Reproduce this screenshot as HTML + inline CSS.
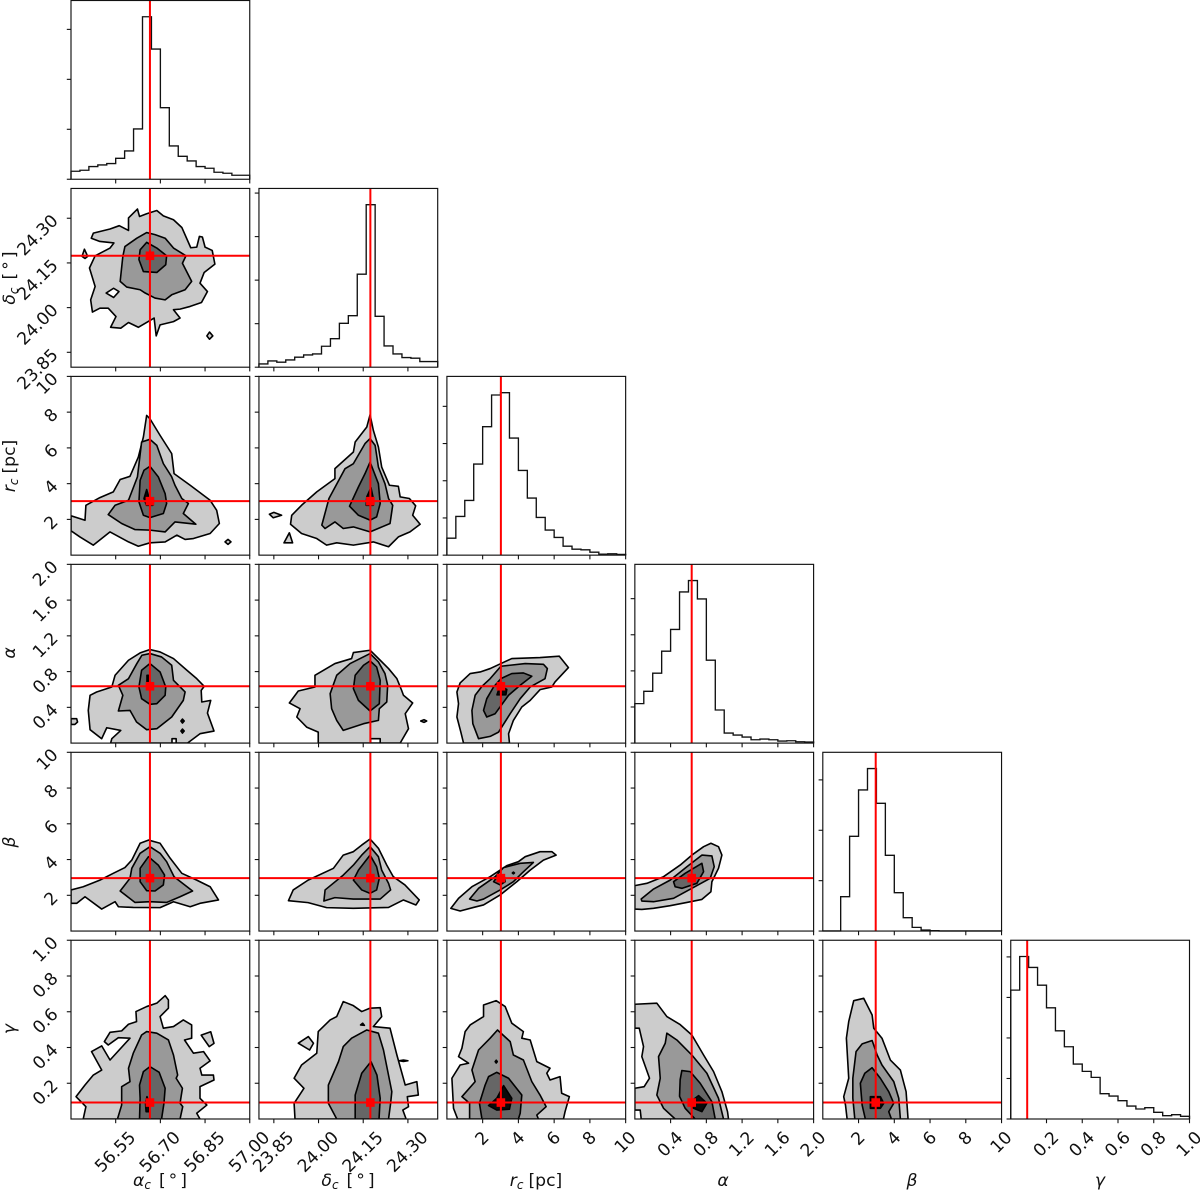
<!DOCTYPE html>
<html lang="en">
<head>
<meta charset="utf-8">
<title>Corner plot</title>
<style>
html,body{margin:0;padding:0;background:#fff;width:1200px;height:1190px;overflow:hidden}
svg{display:block;font-family:"DejaVu Sans","Liberation Sans",sans-serif;fill:#000;filter:blur(0.35px)}
.lab{font-size:17.2px;fill:#111}
</style>
</head>
<body>
<svg id="chart" xmlns="http://www.w3.org/2000/svg" width="1200" height="1190" viewBox="0 0 1200 1190">
<rect width="1200" height="1190" fill="#fff"/>
<g id="panels"></g>
<g>
<text class="lab" x="160" y="1186" text-anchor="middle"><tspan font-style="italic">α</tspan><tspan font-style="italic" font-size="12" dy="3">c</tspan><tspan dy="-3" dx="8">[</tspan><tspan dx="3">°</tspan><tspan dx="3">]</tspan></text>
<text class="lab" x="348" y="1186" text-anchor="middle"><tspan font-style="italic">δ</tspan><tspan font-style="italic" font-size="12" dy="3">c</tspan><tspan dy="-3" dx="8">[</tspan><tspan dx="3">°</tspan><tspan dx="3">]</tspan></text>
<text class="lab" x="536" y="1186" text-anchor="middle"><tspan font-style="italic">r</tspan><tspan font-style="italic" font-size="12" dy="3">c</tspan><tspan dy="-3" dx="5">[pc]</tspan></text>
<text class="lab" x="723" y="1186" text-anchor="middle" font-style="italic">α</text>
<text class="lab" x="912" y="1186" text-anchor="middle" font-style="italic">β</text>
<text class="lab" x="1100" y="1186" text-anchor="middle" font-style="italic">γ</text>
</g>
<g>
<text class="lab" transform="translate(15 278) rotate(-90)" text-anchor="middle"><tspan font-style="italic">δ</tspan><tspan font-style="italic" font-size="12" dy="3">c</tspan><tspan dy="-3" dx="8">[</tspan><tspan dx="3">°</tspan><tspan dx="3">]</tspan></text>
<text class="lab" transform="translate(15 466) rotate(-90)" text-anchor="middle"><tspan font-style="italic">r</tspan><tspan font-style="italic" font-size="12" dy="3">c</tspan><tspan dy="-3" dx="5">[pc]</tspan></text>
<text class="lab" transform="translate(15 653) rotate(-90)" text-anchor="middle" font-style="italic">α</text>
<text class="lab" transform="translate(15 842) rotate(-90)" text-anchor="middle" font-style="italic">β</text>
<text class="lab" transform="translate(15 1029) rotate(-90)" text-anchor="middle" font-style="italic">γ</text>
</g>
</svg>
<script>
// ---------- parameters and axis data ----------
const paramNames = ['alpha-c','delta-c','r-c','alpha','beta','gamma'];
const axisMin = [56.4, 23.8, 0, 0, 0, 0];
const axisMax = [57.0, 24.4, 10, 2, 10, 1];
const truths = [56.665, 24.174, 3.02, 0.636, 2.96, 0.092];
const ticksAlphaC = ['56.55','56.70','56.85','57.00'];
const ticksDeltaC = ['23.85','24.00','24.15','24.30'];
const ticksRc = ['2','4','6','8','10'];
const ticksAlpha = ['0.4','0.8','1.2','1.6','2.0'];
const ticksBeta = ['2','4','6','8','10'];
const ticksGamma = ['0.2','0.4','0.6','0.8','1.0'];
const tickSets = [ticksAlphaC,ticksDeltaC,ticksRc,ticksAlpha,ticksBeta,ticksGamma];

// ---------- 1-D histograms (20 bins, counts in thousands) ----------
const histAlphaC = [0.16,0.18,0.253,0.287,0.313,0.42,0.567,1.007,3.253,2.607,1.433,0.667,0.46,0.367,0.253,0.22,0.14,0.12,0.08,0.08];
const histDeltaC = [0.076,0.145,0.115,0.168,0.229,0.282,0.305,0.481,0.656,1.008,1.183,2.137,3.733,1.168,0.489,0.305,0.221,0.206,0.13,0.13];
const histRc = [0.457,1.04,1.471,2.448,3.453,4.305,4.368,3.148,2.278,1.534,1.013,0.673,0.475,0.242,0.161,0.143,0.081,0.027,0.036,0.018];
const histAlpha = [1.093,1.435,1.935,2.546,3.148,4.185,4.5,3.991,2.296,0.917,0.278,0.222,0.167,0.093,0.111,0.093,0.056,0.065,0.037,0.028];
const histBeta = [0.003,0.003,0.682,1.881,2.801,3.225,2.536,1.503,0.762,0.265,0.073,0.02,0.007,0.003,0.003,0.003,0.003,0.002,0.002,0.002];
const histGamma = [3.18,4.01,3.739,3.303,2.744,2.177,1.783,1.356,1.175,1.027,0.624,0.567,0.452,0.32,0.247,0.279,0.164,0.082,0.107,0.066];
const hists = [histAlphaC,histDeltaC,histRc,histAlpha,histBeta,histGamma];

// ---------- 2-D contours: [level, vertices in data units]; level -1 is an empty hole ----------
const deltaVsAlphaC = [
[0,[[56.623,24.331],[56.63,24.306],[56.654,24.315],[56.688,24.326],[56.71,24.308],[56.744,24.295],[56.772,24.269],[56.802,24.201],[56.822,24.203],[56.831,24.239],[56.841,24.237],[56.85,24.203],[56.874,24.192],[56.883,24.146],[56.847,24.118],[56.833,24.082],[56.858,24.054],[56.838,24.017],[56.8,24.004],[56.766,23.995],[56.744,23.993],[56.766,23.965],[56.744,23.953],[56.699,23.942],[56.686,23.905],[56.679,23.965],[56.626,23.934],[56.593,23.95],[56.567,23.931],[56.533,23.934],[56.551,23.97],[56.525,23.998],[56.497,23.998],[56.472,23.985],[56.466,24.026],[56.481,24.071],[56.462,24.133],[56.481,24.174],[56.531,24.2],[56.544,24.217],[56.497,24.222],[56.468,24.233],[56.475,24.25],[56.531,24.264],[56.562,24.275],[56.593,24.259],[56.593,24.301]]],
[-1,[[56.518,24.049],[56.543,24.065],[56.561,24.054],[56.543,24.034]]],
[0,[[56.437,24.172],[56.445,24.196],[56.456,24.172],[56.447,24.165]]],
[0,[[56.856,23.905],[56.865,23.918],[56.876,23.905],[56.865,23.894]]],
[1,[[56.654,24.252],[56.682,24.245],[56.716,24.233],[56.744,24.2],[56.786,24.174],[56.774,24.149],[56.805,24.088],[56.783,24.06],[56.738,24.043],[56.716,24.026],[56.682,24.032],[56.649,24.049],[56.632,24.06],[56.587,24.069],[56.565,24.088],[56.574,24.172],[56.581,24.205],[56.621,24.233]]],
[2,[[56.654,24.219],[56.688,24.2],[56.721,24.174],[56.718,24.144],[56.688,24.118],[56.643,24.121],[56.628,24.161],[56.632,24.194]]]
];
const rcVsAlphaC = [
[0,[[56.4,2.2],[56.447,1.95],[56.45,2.79],[56.497,3.22],[56.542,3.54],[56.565,4.23],[56.598,4.41],[56.626,5.49],[56.643,6.61],[56.654,7.82],[56.665,7.63],[56.699,6.7],[56.738,5.68],[56.746,4.56],[56.8,3.91],[56.867,3.07],[56.889,2.51],[56.898,1.77],[56.867,1.21],[56.811,0.93],[56.783,0.88],[56.755,1.12],[56.716,0.74],[56.665,0.69],[56.626,0.5],[56.593,0.74],[56.531,1.3],[56.475,0.56],[56.43,1.02],[56.4,1.36]]],
[0,[[56.917,0.74],[56.927,0.88],[56.937,0.74],[56.927,0.6]]],
[1,[[56.665,6.48],[56.688,6.14],[56.71,5.12],[56.738,4.38],[56.749,3.91],[56.772,3.17],[56.794,2.89],[56.777,2.33],[56.819,1.73],[56.749,1.86],[56.716,1.3],[56.665,1.4],[56.615,1.43],[56.57,1.77],[56.525,2.27],[56.548,2.79],[56.593,3.07],[56.623,4.38],[56.637,6.33]]],
[2,[[56.665,4.97],[56.693,4.38],[56.716,3.44],[56.721,2.89],[56.71,2.33],[56.665,2.1],[56.643,2.23],[56.628,2.98],[56.632,4.19],[56.645,4.75]]],
[3,[[56.654,3.67],[56.661,3.26],[56.677,3.07],[56.675,2.79],[56.653,2.79],[56.645,3.17]]]
];
const rcVsDeltaC = [
[0,[[24.173,7.86],[24.184,6.98],[24.201,6.05],[24.212,4.93],[24.238,3.91],[24.268,3.85],[24.274,3.26],[24.305,3.17],[24.326,2.76],[24.316,2.23],[24.341,1.73],[24.307,1.3],[24.268,1.02],[24.235,0.47],[24.184,0.74],[24.117,0.56],[24.061,0.69],[24.027,0.56],[23.994,0.93],[23.943,1.21],[23.906,1.73],[23.91,2.23],[23.943,2.79],[23.994,3.54],[24.055,4.28],[24.055,4.84],[24.117,5.77],[24.123,6.33],[24.162,7.17]]],
[0,[[23.835,2.29],[23.85,2.39],[23.876,2.23],[23.848,2.09]]],
[0,[[23.884,0.69],[23.902,1.25],[23.913,0.69]]],
[1,[[24.173,6.52],[24.19,6.14],[24.201,4.93],[24.223,4.0],[24.235,3.17],[24.249,2.79],[24.24,1.77],[24.173,1.3],[24.117,1.58],[24.083,1.49],[24.055,1.86],[24.022,1.49],[24.011,1.68],[24.035,3.17],[24.089,4.84],[24.117,5.12],[24.156,6.24]]],
[2,[[24.173,5.21],[24.201,4.0],[24.207,2.89],[24.195,2.14],[24.173,1.96],[24.134,2.23],[24.104,2.74],[24.134,3.82],[24.156,4.56]]],
[3,[[24.176,3.78],[24.184,3.17],[24.184,2.79],[24.16,2.79],[24.162,3.26]]]
];
const alphaVsAlphaC = [
[0,[[56.665,1.047],[56.699,1.02],[56.744,0.946],[56.789,0.815],[56.822,0.721],[56.847,0.635],[56.837,0.59],[56.839,0.46],[56.869,0.478],[56.858,0.336],[56.88,0.135],[56.833,0.105],[56.791,0],[56.533,0],[56.537,0.049],[56.567,0.142],[56.52,0.172],[56.503,0.049],[56.464,0.15],[56.458,0.366],[56.464,0.535],[56.486,0.572],[56.537,0.628],[56.548,0.759],[56.593,0.927],[56.632,1.009]]],
[-1,[[56.739,0],[56.739,0.049],[56.753,0.049],[56.753,0]]],
[0,[[56.4,0.273],[56.419,0.273],[56.422,0.236],[56.413,0.209],[56.4,0.209]]],
[3,[[56.769,0.247],[56.774,0.269],[56.78,0.247],[56.774,0.224]]],
[3,[[56.769,0.135],[56.774,0.157],[56.78,0.135],[56.774,0.112]]],
[1,[[56.665,1.002],[56.704,0.964],[56.738,0.871],[56.744,0.703],[56.783,0.572],[56.777,0.478],[56.738,0.292],[56.688,0.161],[56.654,0.15],[56.62,0.236],[56.598,0.366],[56.559,0.359],[56.574,0.535],[56.559,0.647],[56.593,0.721],[56.621,0.89],[56.638,0.983]]],
[2,[[56.665,0.89],[56.699,0.796],[56.718,0.628],[56.716,0.535],[56.688,0.441],[56.665,0.434],[56.637,0.497],[56.628,0.628],[56.637,0.815]]],
[3,[[56.655,0.759],[56.66,0.759],[56.66,0.665],[56.655,0.665]]]
];
const alphaVsDeltaC = [
[0,[[24.173,1.039],[24.207,0.927],[24.235,0.834],[24.263,0.721],[24.279,0.59],[24.285,0.535],[24.316,0.449],[24.291,0.329],[24.302,0.161],[24.274,0],[23.999,0],[23.999,0.123],[23.96,0.179],[23.927,0.292],[23.938,0.385],[23.902,0.449],[23.932,0.583],[23.988,0.628],[23.988,0.759],[24.055,0.89],[24.111,0.946],[24.117,1.013]]],
[-1,[[24.175,0],[24.175,0.049],[24.207,0.049],[24.207,0]]],
[0,[[24.343,0.247],[24.354,0.262],[24.363,0.247],[24.354,0.232]]],
[1,[[24.173,1.002],[24.201,0.908],[24.223,0.778],[24.232,0.647],[24.229,0.46],[24.204,0.385],[24.201,0.254],[24.151,0.217],[24.083,0.142],[24.061,0.254],[24.044,0.385],[24.039,0.553],[24.061,0.759],[24.106,0.89]]],
[2,[[24.173,0.92],[24.195,0.852],[24.207,0.703],[24.204,0.441],[24.173,0.359],[24.134,0.478],[24.117,0.609],[24.123,0.759],[24.151,0.871]]]
];
const alphaVsRc = [
[0,[[3.02,0.89],[3.63,0.946],[5.21,0.957],[6.29,0.972],[6.8,0.845],[6.05,0.684],[5.87,0.628],[5.21,0.598],[4.66,0.478],[4.19,0.404],[3.72,0.254],[3.45,0.105],[3.5,0],[0.93,0],[0.78,0.123],[0.56,0.292],[0.65,0.441],[0.56,0.572],[0.74,0.673],[1.3,0.778],[1.86,0.796],[2.42,0.834]]],
[1,[[3.02,0.86],[4.38,0.89],[5.4,0.882],[5.62,0.834],[5.49,0.721],[4.66,0.628],[4.1,0.497],[3.54,0.329],[2.89,0.123],[2.42,0.075],[1.77,0.049],[1.45,0.217],[1.4,0.366],[1.58,0.535],[1.96,0.635],[2.42,0.721]]],
[2,[[3.02,0.721],[3.63,0.778],[4.28,0.785],[4.75,0.748],[4.1,0.647],[3.45,0.535],[2.7,0.329],[2.23,0.292],[2.05,0.366],[2.23,0.497],[2.61,0.628]]],
[3,[[3.07,0.63],[3.35,0.6],[3.3,0.54],[2.8,0.54],[2.9,0.6]]]
];
const betaVsAlphaC = [
[0,[[56.4,2.3],[56.441,2.48],[56.497,2.85],[56.542,3.23],[56.581,3.55],[56.604,3.97],[56.632,4.91],[56.66,5.09],[56.699,4.91],[56.733,4.07],[56.772,3.23],[56.822,2.85],[56.867,2.48],[56.895,1.74],[56.833,1.55],[56.8,1.36],[56.744,1.64],[56.699,1.31],[56.609,1.32],[56.559,1.36],[56.548,1.64],[56.503,1.23],[56.447,1.92],[56.419,1.55],[56.4,1.55]]],
[1,[[56.665,4.72],[56.699,4.35],[56.721,3.88],[56.746,3.04],[56.808,2.24],[56.766,1.92],[56.721,1.6],[56.665,1.64],[56.615,1.6],[56.565,2.24],[56.598,2.95],[56.604,3.51],[56.632,4.35]]],
[2,[[56.66,4.16],[56.693,3.69],[56.714,3.13],[56.71,2.58],[56.682,2.24],[56.654,2.26],[56.632,2.76],[56.632,3.51]]]
];
const betaVsDeltaC = [
[0,[[24.173,5.15],[24.201,4.63],[24.229,3.69],[24.251,3.04],[24.29,2.58],[24.338,1.74],[24.327,1.46],[24.285,1.74],[24.235,1.32],[24.117,1.27],[24.027,1.31],[23.965,1.59],[23.899,1.7],[23.915,2.3],[23.965,2.85],[24.05,3.51],[24.083,4.25],[24.117,4.44],[24.145,4.81]]],
[1,[[24.173,4.72],[24.201,4.16],[24.212,3.41],[24.235,2.67],[24.242,2.3],[24.207,1.79],[24.117,1.79],[24.055,1.87],[24.018,1.68],[24.022,2.3],[24.083,3.13],[24.117,3.69],[24.145,4.25]]],
[2,[[24.173,4.25],[24.195,3.6],[24.204,2.95],[24.195,2.3],[24.173,2.11],[24.145,2.3],[24.117,2.85],[24.134,3.41]]]
];
const betaVsRc = [
[0,[[0.22,1.27],[0.65,1.83],[1.4,2.48],[2.42,3.04],[2.98,3.41],[3.35,3.66],[4.0,3.88],[4.38,4.16],[5.21,4.44],[5.87,4.44],[6.11,4.25],[5.4,3.97],[4.66,3.41],[3.91,2.76],[2.98,2.02],[2.05,1.46],[1.49,1.32],[0.74,1.12]]],
[1,[[1.27,1.79],[1.77,2.39],[2.7,3.04],[3.17,3.55],[4.1,3.79],[4.84,3.84],[4.19,3.23],[3.72,2.76],[2.98,2.3],[2.05,1.79],[1.68,1.68]]],
[2,[[2.61,2.76],[2.89,3.13],[3.2,3.1],[3.26,2.76],[2.98,2.58]]],
[3,[[3.66,3.25],[3.72,3.3],[3.78,3.25],[3.72,3.2]]]
];
const betaVsAlpha = [
[0,[[0,2.54],[0.134,2.67],[0.321,3.04],[0.507,3.69],[0.638,4.25],[0.769,4.72],[0.851,4.91],[0.936,4.72],[0.974,4.25],[0.936,3.51],[0.862,2.76],[0.851,2.2],[0.75,1.77],[0.582,1.6],[0.395,1.42],[0.209,1.27],[0.078,1.21],[0,1.23]]],
[1,[[0.071,1.79],[0.209,2.35],[0.395,2.85],[0.582,3.6],[0.75,4.25],[0.862,4.2],[0.888,3.6],[0.843,2.95],[0.638,2.39],[0.433,1.83],[0.209,1.64],[0.078,1.68]]],
[2,[[0.433,2.76],[0.563,3.23],[0.75,3.79],[0.769,3.32],[0.694,2.67],[0.526,2.39],[0.451,2.48]]]
];
const gammaVsAlphaC = [
[0,[[56.417,0.125],[56.447,0.19],[56.475,0.246],[56.503,0.274],[56.469,0.377],[56.503,0.409],[56.531,0.33],[56.598,0.452],[56.559,0.455],[56.525,0.414],[56.512,0.433],[56.531,0.485],[56.57,0.493],[56.593,0.53],[56.62,0.545],[56.618,0.601],[56.654,0.629],[56.688,0.648],[56.716,0.69],[56.727,0.666],[56.727,0.62],[56.699,0.573],[56.71,0.508],[56.744,0.517],[56.777,0.554],[56.805,0.526],[56.805,0.452],[56.781,0.442],[56.811,0.368],[56.845,0.377],[56.867,0.325],[56.833,0.284],[56.839,0.246],[56.878,0.246],[56.88,0.218],[56.833,0.181],[56.833,0.116],[56.856,0.078],[56.822,0.032],[56.833,0],[56.441,0],[56.45,0.069]]],
[0,[[56.837,0.469],[56.869,0.488],[56.88,0.423],[56.864,0.405]]],
[1,[[56.654,0.489],[56.688,0.48],[56.727,0.442],[56.744,0.358],[56.758,0.246],[56.753,0.228],[56.774,0.172],[56.766,0.088],[56.775,0.069],[56.766,0],[56.556,0],[56.57,0.078],[56.57,0.181],[56.598,0.209],[56.593,0.284],[56.609,0.368],[56.637,0.47]]],
[2,[[56.665,0.293],[56.696,0.261],[56.716,0.172],[56.712,0.088],[56.704,0],[56.63,0],[56.632,0.116],[56.63,0.19],[56.643,0.265]]],
[3,[[56.655,0.125],[56.662,0.088],[56.662,0.041],[56.652,0.041],[56.65,0.088]]]
];
const gammaVsDeltaC = [
[0,[[24.083,0.657],[24.117,0.634],[24.145,0.601],[24.173,0.62],[24.207,0.623],[24.212,0.573],[24.184,0.517],[24.24,0.508],[24.263,0.358],[24.291,0.19],[24.33,0.209],[24.335,0.134],[24.298,0.125],[24.302,0.069],[24.283,0.05],[24.294,0],[23.921,0],[23.918,0.088],[23.951,0.172],[23.918,0.228],[23.943,0.302],[23.994,0.368],[23.999,0.489],[24.039,0.554],[24.061,0.573]]],
[0,[[23.932,0.424],[23.966,0.461],[23.983,0.424],[23.97,0.386]]],
[3,[[24.27,0.326],[24.285,0.33],[24.3,0.326],[24.285,0.322]]],
[3,[[24.141,0.526],[24.148,0.536],[24.154,0.524]]],
[1,[[24.162,0.498],[24.201,0.48],[24.218,0.386],[24.246,0.153],[24.242,0.088],[24.235,0],[24.061,0],[24.033,0.088],[24.033,0.19],[24.067,0.321],[24.083,0.405],[24.111,0.452]]],
[2,[[24.176,0.321],[24.196,0.246],[24.207,0.116],[24.203,0],[24.123,0],[24.123,0.134],[24.145,0.256]]]
];
const gammaVsRc = [
[0,[[2.76,0.662],[3.26,0.629],[3.63,0.536],[4.28,0.489],[4.19,0.452],[4.66,0.442],[5.03,0.321],[5.77,0.284],[5.59,0.256],[5.77,0.218],[6.33,0.237],[6.42,0.144],[6.85,0.125],[6.61,0.041],[6.52,0],[0.6,0],[0.37,0.06],[0.28,0.228],[0.74,0.302],[1.21,0.312],[0.65,0.349],[0.84,0.396],[1.02,0.489],[1.3,0.526],[2.05,0.573],[2.05,0.638]]],
[1,[[2.83,0.498],[3.54,0.433],[3.72,0.358],[4.28,0.33],[4.75,0.209],[5.21,0.134],[5.55,0.069],[5.03,0.022],[5.12,0],[1.27,0],[1.27,0.088],[0.84,0.125],[1.58,0.209],[1.4,0.274],[1.77,0.386],[2.42,0.452]]],
[3,[[2.7,0.321],[2.76,0.329],[2.82,0.321],[2.76,0.313]]],
[2,[[2.79,0.261],[3.45,0.228],[4.19,0.134],[4.1,0.032],[4.0,0],[1.96,0],[1.82,0.088],[2.14,0.19],[2.33,0.237]]],
[3,[[3.17,0.187],[3.63,0.116],[3.5,0.055],[2.79,0.05],[2.33,0.075],[2.79,0.116]]]
];
const gammaVsAlpha = [
[0,[[0,0.642],[0.246,0.648],[0.358,0.573],[0.507,0.528],[0.638,0.47],[0.769,0.358],[0.881,0.265],[0.974,0.153],[1.037,0.041],[1.048,0],[0.071,0],[0.06,0.05],[0,0.05],[0,0.172],[0.104,0.181],[0.164,0.228],[0.078,0.349],[0.097,0.405],[0.049,0.508],[0,0.508]]],
[1,[[0.358,0.48],[0.47,0.442],[0.638,0.358],[0.806,0.256],[0.936,0.116],[0.992,0],[0.451,0],[0.321,0.06],[0.246,0.134],[0.284,0.228],[0.265,0.349],[0.34,0.424]]],
[2,[[0.526,0.271],[0.619,0.265],[0.731,0.2],[0.862,0.097],[0.899,0],[0.675,0],[0.563,0.06],[0.5,0.127],[0.507,0.22]]],
[3,[[0.713,0.131],[0.806,0.088],[0.75,0.041],[0.657,0.06],[0.6,0.088]]]
];
const gammaVsBeta = [
[0,[[1.73,0.662],[2.29,0.675],[2.76,0.582],[2.85,0.508],[3.31,0.452],[3.78,0.33],[4.34,0.274],[4.66,0.153],[4.77,0],[1.36,0],[1.27,0.078],[1.17,0.125],[1.45,0.228],[1.32,0.452],[1.45,0.545]]],
[1,[[2.2,0.42],[2.76,0.439],[3.04,0.358],[3.31,0.302],[3.97,0.209],[4.25,0.116],[4.34,0],[1.79,0],[1.68,0.116],[1.68,0.228],[1.86,0.377]]],
[2,[[2.76,0.287],[3.22,0.228],[3.69,0.153],[3.97,0.088],[3.69,0.041],[3.84,0],[2.38,0],[2.2,0.078],[2.1,0.2],[2.35,0.256]]],
[3,[[2.66,0.125],[3.22,0.125],[3.41,0.088],[3.22,0.06],[2.66,0.06]]]
];
// contours indexed as contourGrid[row][column]
const contourGrid = {
  1:{0:deltaVsAlphaC},
  2:{0:rcVsAlphaC,1:rcVsDeltaC},
  3:{0:alphaVsAlphaC,1:alphaVsDeltaC,2:alphaVsRc},
  4:{0:betaVsAlphaC,1:betaVsDeltaC,2:betaVsRc,3:betaVsAlpha},
  5:{0:gammaVsAlphaC,1:gammaVsDeltaC,2:gammaVsRc,3:gammaVsAlpha,4:gammaVsBeta}
};

// ---------- layout and axis functions ----------
const NS = 'http://www.w3.org/2000/svg';
const SIZE = 178.75, STEP = 187.95, LEFT0 = 71, TOP0 = 0.5, RED = '#ff0000', INK = '#111', FONT = 17.2;
const levelFill = {'-1':'#ffffff',0:'#cccccc',1:'#999999',2:'#666666',3:'#0a0a0a'};
const root = document.getElementById('panels');
function colLeft(c){ return LEFT0 + STEP*c; }
function rowTop(r){ return TOP0 + STEP*r; }
function xAxis(c,v){ return colLeft(c) + (v-axisMin[c])/(axisMax[c]-axisMin[c])*SIZE; }
function yAxis(r,v){ return rowTop(r) + SIZE - (v-axisMin[r])/(axisMax[r]-axisMin[r])*SIZE; }
function mk(parent,tag,attrs){
  const el = document.createElementNS(NS,tag);
  for(const k in attrs) el.setAttribute(k,attrs[k]);
  parent.appendChild(el);
  return el;
}
function drawTruthV(g,x,top){
  const line = mk(g,'line',{x1:x,x2:x,y1:top,y2:top+SIZE,stroke:RED,'stroke-width':2});
  
  
}
function drawTicks(g,c,r,hasXLabels,hasYLabels){
  const top = rowTop(r), left = colLeft(c), bottom = top+SIZE;
  tickSets[c].forEach(function(label){
    const x = xAxis(c,Number(label));
    const t = mk(g,'line',{x1:x,x2:x,y1:bottom,y2:bottom+4.2,stroke:INK,'stroke-width':1.1});
    
    
    if(hasXLabels){
      const txt = mk(g,'text',{'text-anchor':'middle','dominant-baseline':'central','font-size':FONT,fill:INK});
      txt.textContent = label;
      
      
      const w = txt.getComputedTextLength();
      const cy = bottom + 11.5 + (w+FONT*0.73)*0.7071/2;
      txt.setAttribute('x',x);
      txt.setAttribute('y',cy);
      txt.setAttribute('transform','rotate(-45 '+x+' '+cy+')');
    }
  });
  if(r===c) return;
  tickSets[r].forEach(function(label){
    const y = yAxis(r,Number(label));
    const t = mk(g,'line',{x1:left-4.2,x2:left,y1:y,y2:y,stroke:INK,'stroke-width':1.1});
    
    
    if(hasYLabels){
      const ax = left-15.5, ay = y;
      const txt = mk(g,'text',{x:ax,y:ay,'text-anchor':'end','dominant-baseline':'central','font-size':FONT,fill:INK,transform:'rotate(-45 '+ax+' '+ay+')'});
      txt.textContent = label;
      
      
    }
  });
}
function drawSpine(g,c,r){
  const s = mk(g,'rect',{x:colLeft(c),y:rowTop(r),width:SIZE,height:SIZE,fill:'none',stroke:INK,'stroke-width':1.15});
  
  
}
function drawHist(c){
  const g = mk(root,'g',{});
  
  
  const values = hists[c];
  const top = rowTop(c), bottom = top+SIZE, n = values.length;
  const yMax = Math.max.apply(null,values)*1.1;
  const yv = function(v){ return bottom - v/yMax*SIZE; };
  const edge = function(i){ return axisMin[c]+i*(axisMax[c]-axisMin[c])/n; };
  let d = 'M'+xAxis(c,edge(0)).toFixed(2)+' '+bottom;
  values.forEach(function(v,i){
    d += 'L'+xAxis(c,edge(i)).toFixed(2)+' '+yv(v).toFixed(2)+'L'+xAxis(c,edge(i+1)).toFixed(2)+' '+yv(v).toFixed(2);
  });
  d += 'L'+xAxis(c,edge(n)).toFixed(2)+' '+bottom;
  const p = mk(g,'path',{d:d,fill:'none',stroke:INK,'stroke-width':1.35});
  
  
  drawTruthV(g,xAxis(c,truths[c]),top);
  for(let k=1;k<=yMax;k++){
    const y = yv(k);
    const t = mk(g,'line',{x1:colLeft(c)-4.2,x2:colLeft(c),y1:y,y2:y,stroke:INK,'stroke-width':1.1});
    
    
  }
  const t0 = mk(g,'line',{x1:colLeft(c)-4.2,x2:colLeft(c),y1:bottom,y2:bottom,stroke:INK,'stroke-width':1.1});
  
  
  drawTicks(g,c,c,c===5,false);
  drawSpine(g,c,c);
}
function draw2D(r,c){
  const g = mk(root,'g',{});
  
  
  const id = 'clip-'+r+'-'+c;
  const cp = mk(g,'clipPath',{id:id});
  
  
  const cr = mk(cp,'rect',{x:colLeft(c),y:rowTop(r),width:SIZE,height:SIZE});
  
  
  const inner = mk(g,'g',{'clip-path':'url(#'+id+')'});
  
  
  contourGrid[r][c].forEach(function(item){
    const level = item[0], pts = item[1];
    const attr = pts.map(function(p){ return xAxis(c,p[0]).toFixed(2)+','+yAxis(r,p[1]).toFixed(2); }).join(' ');
    const poly = mk(inner,'polygon',{points:attr,fill:levelFill[level],stroke:'#000','stroke-width':1.6,'stroke-linejoin':'round'});
    
    
  });
  const tx = xAxis(c,truths[c]), ty = yAxis(r,truths[r]);
  drawTruthV(inner,tx,rowTop(r));
  const h = mk(inner,'line',{x1:colLeft(c),x2:colLeft(c)+SIZE,y1:ty,y2:ty,stroke:RED,'stroke-width':2});
  
  
  const m = mk(inner,'rect',{x:tx-4.3,y:ty-4.3,width:8.6,height:8.6,fill:RED});
  
  
  drawTicks(g,c,r,r===5,c===0);
  drawSpine(g,c,r);
}
for(let c=0;c<6;c++) drawHist(c);
for(let r=1;r<6;r++){ for(let c=0;c<r;c++) draw2D(r,c); }
</script>
</body>
</html>
